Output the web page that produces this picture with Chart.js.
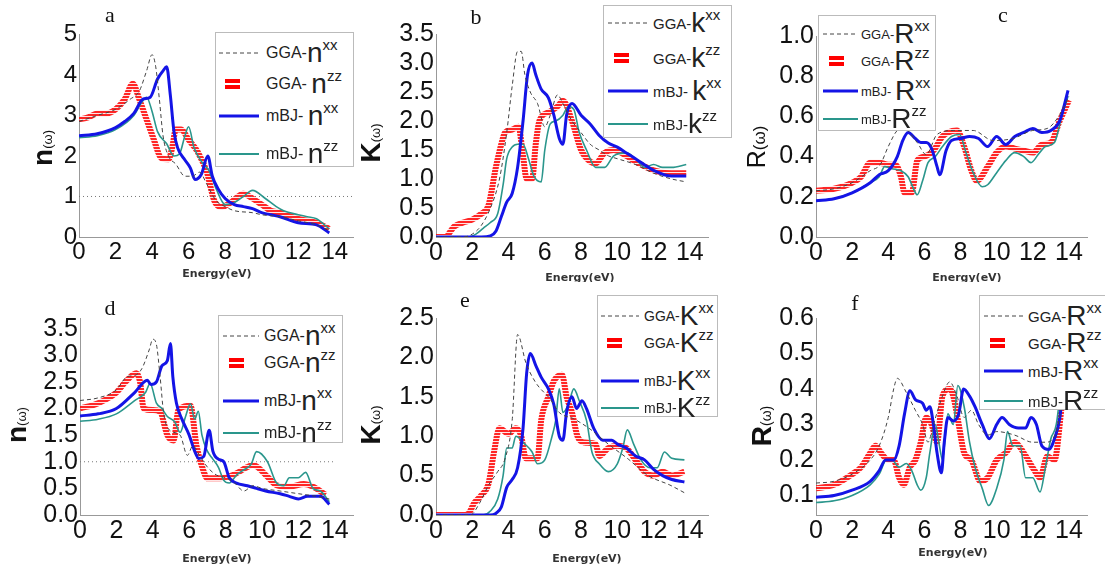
<!DOCTYPE html>
<html>
<head>
<meta charset="utf-8">
<script src="https://cdn.jsdelivr.net/npm/chart.js@4.4.0/dist/chart.umd.min.js"></script>
<style>
body{margin:0;background:#fff;width:1105px;height:569px;position:relative;overflow:hidden;font-family:"Liberation Sans",Arial,sans-serif}
canvas{position:absolute}
.ttl{position:absolute;font-family:"Liberation Serif",serif;font-size:22px;color:#111;transform:translate(-50%,-50%);line-height:1}
.xl{position:absolute;font-family:"DejaVu Sans",sans-serif;font-weight:bold;font-size:11px;color:#333;transform:translateX(-50%);white-space:nowrap;overflow:hidden;line-height:13px}
.yl{position:absolute;transform:translate(-50%,-50%) rotate(-90deg);white-space:nowrap;color:#111;line-height:1}
.leg{position:absolute;border:1px solid #bbb;background:#fff;box-sizing:border-box}
.row{position:absolute;left:0;height:30px;display:flex;align-items:center;white-space:pre;color:#222;transform:translateY(-50%)}
.big{font-size:28px}
.sup{font-size:15px;position:relative;top:-0.55em}
</style>
</head>
<body>
<script>
// energy axis (eV) tick labels
const energyTicks = [0, 2, 4, 6, 8, 10, 12, 14];

// y tick labels
const aTicks = [0, 1, 2, 3, 4, 5];
const bTicks = [0, 0.5, 1, 1.5, 2, 2.5, 3, 3.5];
const cTicks = [0, 0.2, 0.4, 0.6, 0.8, 1.0];
const dTicks = [0, 0.5, 1, 1.5, 2, 2.5, 3, 3.5];
const eTicks = [0, 0.5, 1, 1.5, 2, 2.5];
const fTicks = [0.1, 0.2, 0.3, 0.4, 0.5, 0.6];

// panel a : n(w)
const aGgaXX = [[0,2.85],[1,3.0],[2,3.15],[2.8,3.4],[3.3,3.6],[3.7,4.1],[4.0,4.5],[4.2,4.2],[4.4,3.4],[4.6,2.5],[4.9,2.0],[5.3,1.8],[5.8,1.5],[6.2,1.5],[6.6,1.6],[7.0,1.3],[7.5,0.9],[8.0,0.75],[8.5,0.65],[9.5,0.6],[10.0,0.55],[11,0.5],[12,0.4],[13,0.3],[13.7,0.15]];
const aGgaZZ = [[0,2.9],[0.5,2.95],[1,3.05],[1.5,3.05],[2,3.15],[2.5,3.4],[2.95,3.78],[3.3,3.4],[3.7,2.9],[4.1,2.4],[4.5,1.95],[4.9,1.92],[5.1,2.2],[5.3,2.65],[5.6,2.65],[6.0,2.4],[6.5,2.1],[7.0,1.6],[7.4,0.9],[7.8,0.74],[8.3,0.85],[9.0,1.07],[9.5,0.95],[10,0.8],[10.5,0.65],[11,0.6],[12,0.45],[13,0.35],[13.7,0.2]];
const aMbjXX = [[0,2.5],[1,2.55],[2,2.7],[2.5,2.85],[3,3.05],[3.5,3.4],[3.9,3.45],[4.3,3.9],[4.6,4.1],[4.8,4.2],[5.0,3.5],[5.2,2.6],[5.4,2.2],[5.8,1.9],[6.1,1.7],[6.35,1.42],[6.7,1.55],[7.05,2.0],[7.3,1.5],[7.6,1.2],[8.0,0.95],[8.5,0.8],[9.0,0.75],[9.5,0.7],[10,0.6],[10.5,0.55],[11,0.5],[12,0.35],[13,0.3],[13.7,0.1]];
const aMbjZZ = [[0,2.45],[1,2.5],[2,2.65],[3,3.0],[3.4,3.3],[3.7,3.45],[4.0,3.1],[4.3,2.6],[4.8,2.3],[5.2,2.0],[5.5,2.05],[5.8,2.5],[6.0,2.72],[6.3,2.2],[6.8,1.8],[7.1,1.65],[7.5,1.2],[8.0,0.8],[8.5,0.85],[9.0,1.0],[9.5,1.15],[10.2,0.95],[10.8,0.75],[11.2,0.65],[12,0.55],[12.5,0.5],[13,0.45],[13.7,0.2]];
const aRef = [[0,1],[15,1]];

// panel b : k(w)
const bGgaXX = [[0,0],[1.5,0],[2,0.05],[2.5,0.2],[3,0.5],[3.5,1.0],[3.9,1.8],[4.2,2.6],[4.5,3.2],[4.7,3.2],[4.9,2.8],[5.2,2.5],[5.6,2.3],[6.0,1.9],[6.3,2.1],[6.7,2.45],[7.0,2.3],[7.5,2.0],[8.0,1.8],[8.5,1.6],[9,1.5],[9.5,1.4],[10,1.35],[11,1.25],[12,1.1],[13,1.0],[13.8,0.95]];
const bGgaZZ = [[0,0],[0.5,0],[1,0.18],[1.5,0.25],[2,0.3],[2.5,0.4],[2.9,0.55],[3.3,1.2],[3.6,1.6],[3.8,1.8],[4.2,1.85],[4.55,1.9],[4.8,1.4],[5.0,1.0],[5.3,1.0],[5.5,1.6],[5.7,2.0],[6.2,2.15],[6.7,2.25],[7.0,2.35],[7.5,2.0],[8.0,1.5],[8.5,1.3],[8.8,1.27],[9.3,1.45],[9.8,1.5],[10.5,1.4],[11,1.3],[12,1.15],[13,1.1],[13.8,1.1]];
const bMbjXX = [[0,0],[2.5,0],[3,0.02],[3.3,0.1],[3.6,0.35],[3.9,0.6],[4.2,0.75],[4.5,1.2],[4.8,2.0],[5.05,2.8],[5.3,3.0],[5.5,2.8],[5.8,2.55],[6.2,2.4],[6.5,2.1],[6.8,1.7],[7.0,1.6],[7.2,2.1],[7.5,2.3],[8,2.1],[8.5,1.95],[9,1.75],[9.5,1.62],[10,1.55],[10.5,1.45],[11,1.35],[12,1.15],[13,1.05],[13.8,1.05]];
const bMbjZZ = [[0,0],[1.8,0],[2.2,0.05],[2.6,0.15],[3.0,0.25],[3.4,0.4],[3.7,0.9],[3.9,1.35],[4.2,1.55],[4.5,1.6],[4.8,1.6],[5.1,1.35],[5.4,1.05],[5.8,0.95],[6.0,1.5],[6.3,1.95],[6.6,2.0],[7.0,2.1],[7.3,2.25],[7.6,2.2],[7.9,1.8],[8.3,1.5],[8.8,1.2],[9.3,1.2],[9.8,1.4],[10.5,1.45],[11,1.35],[11.5,1.2],[12,1.25],[12.5,1.2],[13,1.2],[13.8,1.25]];

// panel c : R(w)
const cGgaXX = [[0,0.23],[1,0.24],[2,0.27],[3,0.33],[3.55,0.36],[4.0,0.45],[4.5,0.53],[4.85,0.54],[5.6,0.47],[6.1,0.41],[6.7,0.51],[7.6,0.53],[8.7,0.53],[9.8,0.48],[10.9,0.49],[12,0.53],[12.8,0.54],[13.5,0.61],[14,0.7]];
const cGgaZZ = [[0,0.23],[1,0.24],[2,0.27],[2.5,0.3],[3,0.37],[3.5,0.37],[4,0.36],[4.4,0.36],[4.7,0.3],[4.9,0.22],[5.3,0.22],[5.6,0.38],[6,0.4],[6.5,0.43],[7,0.5],[7.3,0.52],[7.8,0.53],[8.2,0.45],[8.6,0.33],[8.9,0.28],[9.5,0.35],[10,0.42],[10.5,0.45],[11,0.44],[11.5,0.43],[12,0.42],[12.5,0.46],[13,0.47],[13.5,0.58],[14,0.68]];
const cMbjXX = [[0,0.18],[1,0.19],[2,0.22],[3,0.27],[3.5,0.31],[4,0.33],[4.5,0.4],[4.8,0.48],[5.1,0.52],[5.5,0.49],[5.8,0.47],[6.1,0.47],[6.4,0.44],[6.7,0.35],[6.85,0.31],[7.2,0.43],[7.5,0.48],[8.0,0.49],[8.5,0.5],[9,0.49],[9.5,0.45],[10,0.5],[10.5,0.46],[11,0.5],[11.5,0.52],[12,0.54],[12.5,0.52],[13,0.53],[13.5,0.58],[13.95,0.73]];
const cMbjZZ = [[0,0.18],[1,0.19],[2,0.22],[3,0.27],[3.5,0.3],[3.8,0.35],[4.2,0.34],[4.7,0.33],[5.1,0.3],[5.4,0.24],[5.6,0.21],[5.9,0.28],[6.2,0.37],[6.6,0.4],[7,0.45],[7.5,0.5],[7.95,0.51],[8.3,0.42],[8.7,0.32],[9.2,0.25],[9.5,0.26],[10,0.32],[10.5,0.38],[11,0.42],[11.5,0.4],[11.9,0.37],[12.3,0.41],[12.7,0.45],[13.2,0.47],[13.6,0.6],[13.95,0.7]];

// panel d : n(w)
const dGgaXX = [[0,2.15],[1,2.2],[2,2.35],[2.6,2.6],[3,2.62],[3.4,2.75],[3.8,3.1],[4.0,3.3],[4.2,3.2],[4.4,2.6],[4.6,1.9],[4.9,1.6],[5.5,1.5],[5.9,1.12],[6.2,1.3],[6.6,1.1],[7.0,0.9],[7.5,0.75],[8,0.7],[8.5,0.6],[9,0.45],[9.5,0.55],[10,0.5],[11,0.45],[12,0.4],[13,0.35],[13.7,0.3]];
const dGgaZZ = [[0,2.0],[1,2.1],[2,2.3],[2.5,2.5],[3.1,2.66],[3.3,2.5],[3.5,2.0],[4.0,1.97],[4.4,1.94],[4.8,1.5],[5.15,1.4],[5.4,1.97],[6.07,2.05],[6.4,1.3],[6.8,0.81],[7.0,0.69],[7.7,0.69],[8.4,0.75],[9.2,0.9],[9.5,0.94],[10.3,0.72],[10.8,0.56],[11.5,0.53],[12.3,0.58],[12.8,0.53],[13.5,0.38]];
const dMbjXX = [[0,1.86],[1,1.9],[2,2.0],[3,2.3],[3.7,2.53],[3.9,2.45],[4.2,2.5],[4.5,2.8],[4.8,2.9],[4.97,3.22],[5.1,2.6],[5.3,2.1],[5.6,1.8],[6.0,1.5],[6.3,1.2],[6.53,1.06],[6.8,1.1],[7.1,1.59],[7.3,1.2],[7.6,1.05],[7.9,1.0],[8.2,0.7],[8.6,0.6],[9.2,0.55],[9.7,0.5],[10.2,0.45],[11,0.4],[11.5,0.35],[12,0.3],[12.5,0.35],[13.2,0.35],[13.7,0.2]];
const dMbjZZ = [[0,1.76],[1,1.8],[2,1.9],[3,2.15],[3.6,2.3],[3.85,2.47],[4.2,2.1],[4.5,2.0],[4.8,1.85],[5.2,1.75],[5.5,1.55],[5.8,1.85],[6.07,2.09],[6.3,1.8],[6.5,1.95],[6.7,1.5],[7,1.2],[7.3,1.05],[7.6,0.9],[7.9,0.65],[8.2,0.6],[8.6,0.75],[9,0.85],[9.4,0.95],[9.7,1.19],[10.3,1.0],[10.8,0.6],[11.2,0.55],[11.5,0.7],[12,0.7],[12.4,0.8],[12.8,0.5],[13.2,0.45],[13.7,0.25]];
const dRef = [[0,1],[14,1]];

// panel e : K(w)
const eGgaXX = [[0,0],[1.9,0],[2.4,0.15],[2.9,0.38],[3.4,0.55],[3.8,0.71],[4.2,1.2],[4.5,2.29],[4.96,1.93],[5.5,1.68],[6.3,1.47],[6.8,1.3],[7.6,1.22],[8.5,1.09],[9.5,0.9],[10.6,0.71],[11.7,0.5],[12.9,0.38],[13.8,0.27]];
const eGgaZZ = [[0,0],[1.5,0],[1.8,0.02],[2.1,0.15],[2.5,0.25],[2.9,0.4],[3.2,0.8],[3.5,1.1],[4.0,1.03],[4.4,1.1],[4.7,1.0],[4.95,0.72],[5.6,0.72],[5.8,1.2],[6.2,1.5],[6.5,1.7],[6.95,1.78],[7.2,1.5],[7.5,1.3],[7.8,1.0],[8.2,0.92],[8.8,0.9],[9.0,0.75],[9.5,0.85],[10.0,0.88],[10.5,0.85],[11.0,0.7],[11.5,0.55],[12,0.5],[12.5,0.55],[13,0.5],[13.7,0.55]];
const eMbjXX = [[0,0],[3,0],[3.3,0.02],[3.6,0.1],[3.9,0.35],[4.2,0.45],[4.5,0.6],[4.8,1.1],[5.0,1.8],[5.2,2.05],[5.5,1.9],[5.8,1.75],[6.2,1.6],[6.5,1.4],[6.8,1.0],[7.0,0.95],[7.2,1.3],[7.5,1.5],[7.75,1.35],[8.05,1.45],[8.3,1.35],[8.7,1.1],[9.2,0.95],[9.7,0.95],[10,0.9],[10.5,0.85],[11,0.75],[11.5,0.7],[12,0.58],[12.5,0.5],[13,0.45],[13.7,0.42]];
const eMbjZZ = [[0,0],[2.6,0],[3.0,0.05],[3.4,0.2],[3.7,0.5],[3.9,0.85],[4.2,0.85],[4.4,1.0],[4.9,0.9],[5.3,0.8],[5.6,0.65],[6.0,0.7],[6.4,1.0],[6.6,1.2],[6.8,1.6],[7.0,1.3],[7.3,1.4],[7.6,1.6],[7.9,1.45],[8.3,1.2],[8.6,0.8],[9.0,0.65],[9.5,0.55],[10,0.65],[10.3,0.85],[10.55,1.08],[10.9,0.9],[11.3,0.7],[11.8,0.6],[12.2,0.6],[12.6,0.8],[13,0.72],[13.7,0.7]];

// panel f : R(w)
const fGgaXX = [[0,0.135],[1,0.14],[2,0.16],[3,0.2],[3.5,0.24],[4,0.32],[4.3,0.4],[4.5,0.43],[5,0.39],[5.5,0.34],[5.9,0.3],[6.2,0.25],[6.5,0.3],[7,0.38],[7.4,0.42],[7.8,0.38],[8.2,0.32],[8.6,0.34],[9,0.3],[9.5,0.27],[10,0.28],[11,0.27],[12,0.25],[12.7,0.25],[13.3,0.28],[13.7,0.38]];
const fGgaZZ = [[0,0.12],[1,0.13],[2,0.16],[2.5,0.18],[3,0.22],[3.3,0.24],[3.6,0.22],[4.0,0.2],[4.3,0.2],[4.6,0.15],[4.85,0.13],[5.2,0.18],[5.5,0.2],[5.8,0.25],[6.1,0.32],[6.4,0.3],[6.7,0.25],[7.0,0.38],[7.4,0.4],[7.6,0.38],[7.9,0.3],[8.2,0.22],[8.6,0.2],[9.1,0.14],[9.5,0.15],[10,0.2],[10.5,0.22],[11,0.25],[11.5,0.22],[12.1,0.17],[12.4,0.15],[12.8,0.21],[13.2,0.2],[13.6,0.35]];
const fMbjXX = [[0,0.095],[1,0.1],[2,0.115],[3,0.14],[3.5,0.17],[3.85,0.2],[4.3,0.2],[4.6,0.24],[4.9,0.33],[5.2,0.395],[5.5,0.37],[5.9,0.36],[6.1,0.34],[6.3,0.35],[6.5,0.3],[6.7,0.22],[6.94,0.164],[7.1,0.25],[7.3,0.32],[7.6,0.31],[7.9,0.33],[8.17,0.4],[8.5,0.38],[8.8,0.35],[9.2,0.3],[9.6,0.26],[10,0.3],[10.3,0.32],[10.7,0.3],[11.2,0.29],[11.6,0.29],[11.9,0.32],[12.2,0.3],[12.5,0.24],[12.9,0.23],[13.2,0.26],[13.5,0.32],[13.7,0.42]];
const fMbjZZ = [[0,0.08],[1,0.085],[2,0.1],[3,0.13],[3.5,0.16],[3.9,0.2],[4.2,0.2],[4.6,0.18],[5.0,0.19],[5.3,0.17],[5.6,0.13],[5.8,0.115],[6.1,0.15],[6.3,0.22],[6.6,0.3],[6.8,0.25],[7.0,0.2],[7.3,0.33],[7.6,0.3],[7.85,0.41],[8.2,0.35],[8.5,0.25],[8.8,0.18],[9.2,0.12],[9.55,0.072],[10.0,0.12],[10.4,0.2],[10.6,0.28],[10.9,0.24],[11.3,0.24],[11.6,0.15],[12,0.15],[12.4,0.11],[12.7,0.18],[13,0.26],[13.3,0.3],[13.7,0.48]];

const PADL = 64, PADT = 16, PADR = 12, PADB = 40;

function pts(arr) { return arr.map(p => ({x: p[0], y: p[1]})); }

// red "=" hatching for the GGA zz curves
function hatch(ctx) {
  const c = document.createElement('canvas');
  c.width = 4; c.height = 3;
  const g = c.getContext('2d');
  g.fillStyle = 'rgba(255,0,0,0.85)';
  g.fillRect(0, 0, 4, 2);
  g.fillStyle = 'rgba(255,170,170,0.3)';
  g.fillRect(0, 2, 4, 1);
  return ctx.createPattern(c, 'repeat');
}

function makePanel(p) {
  const cv = document.createElement('canvas');
  const w = p.right - p.left + PADL + PADR, h = p.bottom - p.top + PADT + PADB;
  cv.width = w; cv.height = h;
  cv.style.left = (p.left - PADL) + 'px';
  cv.style.top = (p.top - PADT) + 'px';
  document.body.appendChild(cv);
  const ctx = cv.getContext('2d');
  const font = {family: '"Liberation Sans", Arial, sans-serif', size: p.fs};
  const datasets = [
    {data: pts(p.series[0]), borderColor: '#444', borderWidth: 1, borderDash: [4, 3], order: 0},
    {data: pts(p.series[1]), borderColor: hatch(ctx), borderWidth: 6, order: 4},
    {data: pts(p.series[2]), borderColor: '#1414e6', borderWidth: 3, order: 1},
    {data: pts(p.series[3]), borderColor: '#2a968c', borderWidth: 1.6, order: 2}
  ];
  if (p.ref) datasets.push({data: pts(p.ref), borderColor: '#777', borderWidth: 1, borderDash: [1, 3], order: 3});
  new Chart(cv, {
    type: 'line',
    data: {datasets: datasets},
    options: {
      responsive: false,
      animation: false,
      devicePixelRatio: 1,
      layout: {padding: {left: 0, top: PADT, right: PADR, bottom: 0}},
      elements: {point: {radius: 0}, line: {cubicInterpolationMode: 'monotone'}},
      plugins: {legend: {display: false}, tooltip: {enabled: false}},
      scales: {
        x: {
          type: 'linear', min: 0, max: 15,
          grid: {display: false, drawTicks: false},
          border: {display: true, color: '#999'},
          ticks: {font: font, color: '#111', padding: 1, maxRotation: 0, autoSkip: false},
          afterBuildTicks: s => { s.ticks = energyTicks.map(v => ({value: v})); },
          afterFit: s => { s.height = PADB; }
        },
        y: {
          type: 'linear', min: p.ymin, max: p.ymax,
          grid: {display: false, drawTicks: false},
          border: {display: true, color: '#999'},
          ticks: {font: font, color: '#111', padding: 2, autoSkip: false, callback: v => v.toFixed(p.dec)},
          afterBuildTicks: s => { s.ticks = p.yticks.map(v => ({value: v})); },
          afterFit: s => { s.width = PADL; }
        }
      }
    }
  });
}

function addDiv(cls, html, style) {
  const d = document.createElement('div');
  d.className = cls;
  d.innerHTML = html;
  d.style.cssText = style;
  document.body.appendChild(d);
  return d;
}

function sample(i, sw, sh) {
  let s = '<svg width="' + sw + '" height="' + sh + '" style="flex:none">';
  const m = sh / 2;
  if (i === 0) s += '<line x1="0" y1="' + m + '" x2="' + sw + '" y2="' + m + '" stroke="#444" stroke-width="1" stroke-dasharray="4 3"/>';
  if (i === 1) s += '<rect x="6" y="' + (m - 5) + '" width="15" height="4" fill="#f00"/><rect x="6" y="' + (m + 1) + '" width="15" height="4" fill="#f00"/>';
  if (i === 2) s += '<line x1="0" y1="' + m + '" x2="' + sw + '" y2="' + m + '" stroke="#1414e6" stroke-width="3"/>';
  if (i === 3) s += '<line x1="0" y1="' + m + '" x2="' + sw + '" y2="' + m + '" stroke="#2a968c" stroke-width="1.8"/>';
  return s + '</svg>';
}

function makeLegend(L) {
  const box = addDiv('leg', '', 'left:' + L.x + 'px;top:' + L.y + 'px;width:' + L.w + 'px;height:' + L.h + 'px');
  L.labels.forEach((lab, i) => {
    const r = document.createElement('div');
    r.className = 'row';
    r.style.top = L.rows[i] + 'px';
    r.style.left = L.inset + 'px';
    r.innerHTML = sample(i, L.sw, 14) +
      '<span style="width:' + L.gap + 'px"></span>' +
      '<span style="font-size:' + L.fs + 'px">' + lab[0] + '</span>' +
      '<span class="big">' + L.sym + '</span><span class="sup">' + lab[1] + '</span>';
    box.appendChild(r);
  });
}

function yTitle(x, y, sym, bold, symSize, wSize) {
  addDiv('yl', '<span style="font-size:' + symSize + 'px;font-weight:' + (bold ? 'bold' : 'normal') + '">' + sym +
    '</span><span style="font-size:' + wSize + 'px">(ω)</span>', 'left:' + x + 'px;top:' + y + 'px');
}

// ---- panels ----
makePanel({left: 79, right: 353, top: 34, bottom: 237, ymin: 0, ymax: 5, yticks: aTicks, dec: 0, fs: 24, series: [aGgaXX, aGgaZZ, aMbjXX, aMbjZZ], ref: aRef});
makePanel({left: 436, right: 708, top: 33, bottom: 237, ymin: 0, ymax: 3.5, yticks: bTicks, dec: 1, fs: 25, series: [bGgaXX, bGgaZZ, bMbjXX, bMbjZZ]});
makePanel({left: 816, right: 1087, top: 35, bottom: 237, ymin: 0, ymax: 1.0, yticks: cTicks, dec: 1, fs: 25, series: [cGgaXX, cGgaZZ, cMbjXX, cMbjZZ]});
makePanel({left: 80, right: 353, top: 317, bottom: 515, ymin: 0, ymax: 3.7, yticks: dTicks, dec: 1, fs: 25, series: [dGgaXX, dGgaZZ, dMbjXX, dMbjZZ], ref: dRef});
makePanel({left: 436, right: 708, top: 317, bottom: 515, ymin: 0, ymax: 2.5, yticks: eTicks, dec: 1, fs: 25, series: [eGgaXX, eGgaZZ, eMbjXX, eMbjZZ]});
makePanel({left: 816, right: 1087, top: 317, bottom: 515, ymin: 0.045, ymax: 0.6, yticks: fTicks, dec: 1, fs: 25, series: [fGgaXX, fGgaZZ, fMbjXX, fMbjZZ]});

// ---- legends ----
makeLegend({x: 215, y: 32, w: 139, h: 135, inset: 3, sw: 40, gap: 7, fs: 16, sym: 'n', rows: [20, 51, 83, 121],
  labels: [['GGA-', 'xx'], ['GGA- ', 'zz'], ['mBJ- ', 'xx'], ['mBJ- ', 'zz']]});
makeLegend({x: 603, y: 5, w: 129, h: 133, inset: 4, sw: 40, gap: 5, fs: 15, sym: 'k', rows: [17, 52, 85, 118],
  labels: [['GGA-', 'xx'], ['GGA-', 'zz'], ['mBJ- ', 'xx'], ['mBJ-', 'zz']]});
makeLegend({x: 818, y: 15, w: 118, h: 116, inset: 4, sw: 35, gap: 3, fs: 13, sym: 'R', rows: [18, 45, 75, 103],
  labels: [['GGA-', 'xx'], ['GGA-', 'zz'], ['mBJ- ', 'xx'], ['mBJ-', 'zz']]});
makeLegend({x: 218, y: 315, w: 125, h: 128, inset: 4, sw: 36, gap: 5, fs: 16, sym: 'n', rows: [20, 47, 85, 117],
  labels: [['GGA-', 'xx'], ['GGA-', 'zz'], ['mBJ-', 'xx'], ['mBJ-', 'zz']]});
makeLegend({x: 597, y: 295, w: 121, h: 122, inset: 3, sw: 38, gap: 5, fs: 14, sym: 'K', rows: [20, 47, 85, 112],
  labels: [['GGA-', 'xx'], ['GGA-', 'zz'], ['mBJ-', 'xx'], ['mBJ-', 'zz']]});
makeLegend({x: 979, y: 295, w: 130, h: 115, inset: 4, sw: 39, gap: 5, fs: 15, sym: 'R', rows: [20, 47, 75, 105],
  labels: [['GGA-', 'xx'], ['GGA-', 'zz'], ['mBJ-', 'xx'], ['mBJ-', 'zz']]});

// ---- panel letters ----
[['a', 110, 15], ['b', 476, 17], ['c', 1003, 15], ['d', 110, 308], ['e', 465, 300], ['f', 855, 303]].forEach(t =>
  addDiv('ttl', t[0], 'left:' + t[1] + 'px;top:' + t[2] + 'px'));

// ---- axis titles ----
[[217, 267, 20], [580, 271, 11], [967, 271, 11], [217, 552, 20], [587, 552, 20], [953, 546, 20]].forEach(t =>
  addDiv('xl', 'Energy(eV)', 'left:' + t[0] + 'px;top:' + t[1] + 'px;height:' + t[2] + 'px'));

yTitle(43, 148, 'n', true, 28, 13);
yTitle(371, 143, 'K', true, 28, 13);
yTitle(756, 147, 'R', false, 25, 17);
yTitle(17, 425, 'n', true, 28, 13);
yTitle(371, 425, 'K', true, 28, 13);
yTitle(762, 426, 'R', true, 28, 14);
</script>
</body>
</html>
